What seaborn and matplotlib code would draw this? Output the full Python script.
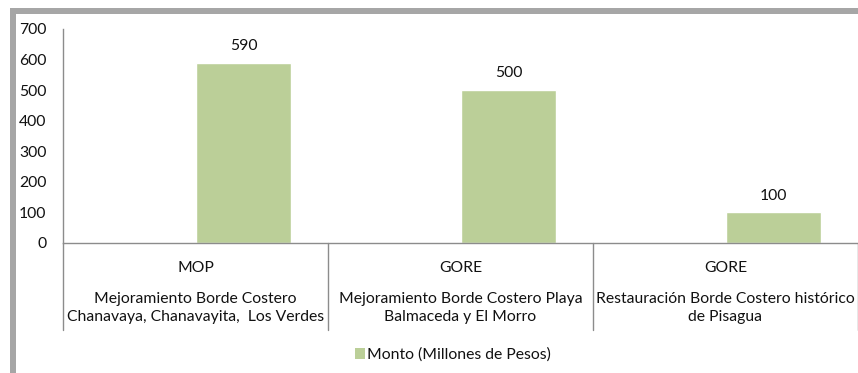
import matplotlib
matplotlib.use("Agg")
import matplotlib.pyplot as plt
import matplotlib.transforms as mtransforms
from matplotlib.patches import Patch, Rectangle
from matplotlib.lines import Line2D
import seaborn as sns
import pandas as pd

# Data
entidades = ["MOP", "GORE", "GORE"]
proyectos = [
    "Mejoramiento Borde Costero\nChanavaya, Chanavayita,  Los Verdes",
    "Mejoramiento Borde Costero Playa\nBalmaceda y El Morro",
    "Restauración Borde Costero histórico\nde Pisagua",
]
montos = [590, 500, 100]
serie = "Monto (Millones de Pesos)"
yticks = [0, 100, 200, 300, 400, 500, 600, 700]

sns.set_theme(style="white")
plt.rcParams["font.family"] = ["Lato", "DejaVu Sans"]

BAR = "#BBCF98"
AXIS = "#8C8C8C"
TXT = "#111111"
FS = 11.3

df = pd.DataFrame({"proyecto": proyectos, "monto": montos, "serie": serie})

fig = plt.figure(figsize=(8.58, 3.73), dpi=100)
ax = fig.add_axes([63 / 858, 130 / 373, 795 / 858, 214 / 373])

sns.barplot(
    data=df, x="proyecto", y="monto", hue="serie",
    hue_order=["", serie], palette=["#FFFFFF", BAR],
    width=0.7245, dodge=True, legend=False, ax=ax,
    saturation=1, errorbar=None,
)

for cont in ax.containers:
    ax.bar_label(cont, labels=[f"{v:g}" if v == v else "" for v in cont.datavalues],
                 padding=7, fontsize=FS, color=TXT)

ax.set_xlim(-0.5, len(proyectos) - 0.5)
ax.set_ylim(0, 700)
ax.set_yticks(yticks)
ax.set_yticklabels([str(t) for t in yticks], fontsize=FS, color=TXT)
ax.tick_params(axis="y", length=0, pad=12)
ax.set_xticks([])
ax.set_xlabel("")
ax.set_ylabel("")

for side in ("top", "right"):
    ax.spines[side].set_visible(False)
for side in ("left", "bottom"):
    ax.spines[side].set_color(AXIS)
    ax.spines[side].set_linewidth(1.0)

# Multi-level category axis below the plot
trans = mtransforms.blended_transform_factory(ax.transData, ax.transAxes)
for i, (ent, proy) in enumerate(zip(entidades, proyectos)):
    ax.text(i, -25 / 214, ent, transform=trans, ha="center", va="center",
            fontsize=FS, color=TXT)
    ax.text(i, -(298 - 243 + 10) / 214, proy, transform=trans, ha="center",
            va="center", fontsize=FS, color=TXT, linespacing=1.45)
for xb in [i - 0.5 for i in range(len(proyectos) + 1)]:
    ax.add_line(Line2D([xb, xb], [0, -87 / 214], transform=trans,
                       color=AXIS, lw=1.0, clip_on=False))

# Legend
fig.legend(handles=[Patch(facecolor=BAR, edgecolor="none", label=serie)],
           loc="center", bbox_to_anchor=(453 / 858, 18 / 373), frameon=False,
           fontsize=FS, handlelength=0.65, handleheight=0.65,
           handletextpad=0.15, labelcolor=TXT)

# Outer frame (top and left)
fig.patches.append(Rectangle((10 / 858, 0), 6 / 858, 365 / 373,
                             transform=fig.transFigure, facecolor="#A6A6A6",
                             edgecolor="none"))
fig.patches.append(Rectangle((10 / 858, (373 - 14) / 373), 848 / 858, 6 / 373,
                             transform=fig.transFigure, facecolor="#A6A6A6",
                             edgecolor="none"))

fig.savefig("out.png", dpi=100)
